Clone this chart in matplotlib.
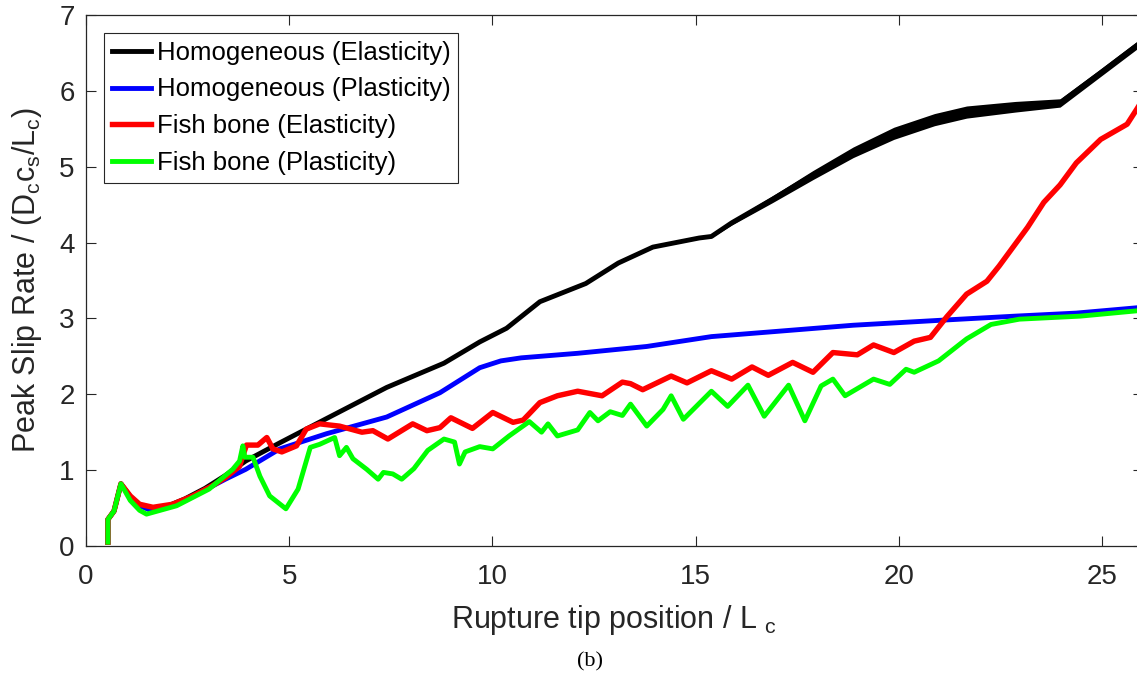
import numpy as np
import matplotlib
matplotlib.use("Agg")
import matplotlib.pyplot as plt

plt.rcParams['font.family'] = ['Liberation Sans', 'DejaVu Sans']
plt.rcParams['mathtext.fontset'] = 'custom'
plt.rcParams['mathtext.rm'] = 'Liberation Sans'

# Homogeneous (Elasticity)
black_x = [0.54, 0.54, 0.69, 0.86, 1.09, 1.34, 1.59, 1.93, 2.43, 2.93,
           3.43, 3.93, 4.77, 5.92, 7.40, 8.81, 9.69, 10.35, 11.17, 12.30,
           13.10, 13.95, 15.09, 15.39, 15.89, 16.89, 17.89, 18.88, 19.88, 20.88,
           21.67, 22.87, 23.97, 24.97, 25.86, 26.0]
black_y = [0.05, 0.35, 0.46, 0.82, 0.65, 0.53, 0.48, 0.51, 0.62, 0.76,
           0.93, 1.12, 1.36, 1.68, 2.09, 2.41, 2.69, 2.87, 3.22, 3.46,
           3.73, 3.94, 4.06, 4.08, 4.26, 4.57, 4.89, 5.19, 5.44, 5.62,
           5.72, 5.79, 5.84, 6.24, 6.60, 6.65]
# oscillation envelope (half width) of the black curve
black_spread = [0, 0, 0, 0, 0, 0, 0, 0, 0, 0,
                0, 0, 0, 0, 0, 0, 0, 0, 0, 0,
                0, 0, 0, 0.015, 0.03, 0.045, 0.06, 0.07, 0.08, 0.08,
                0.08, 0.07, 0.055, 0.05, 0.05, 0.05]

# Homogeneous (Plasticity)
blue_x = [0.54, 0.54, 0.69, 0.86, 1.09, 1.34, 1.59, 1.93, 2.43, 2.93,
          3.43, 3.93, 4.77, 5.92, 7.40, 8.71, 9.69, 10.21, 10.71, 12.10,
          13.80, 15.39, 17.49, 18.88, 21.18, 22.87, 24.37, 25.86, 26.0]
blue_y = [0.05, 0.35, 0.46, 0.82, 0.65, 0.53, 0.47, 0.50, 0.60, 0.74,
          0.88, 1.01, 1.28, 1.48, 1.70, 2.02, 2.35, 2.44, 2.48, 2.54,
          2.63, 2.76, 2.85, 2.91, 2.98, 3.03, 3.07, 3.14, 3.15]

# Fish bone (Elasticity)
red_x = [0.54, 0.54, 0.69, 0.86, 1.09, 1.32, 1.65, 2.13, 2.63, 3.13,
         3.43, 3.78, 3.88, 3.95, 4.23, 4.45, 4.60, 4.82, 5.18, 5.42,
         5.75, 6.24, 6.79, 7.06, 7.43, 8.04, 8.39, 8.71, 8.98, 9.51,
         10.01, 10.51, 10.76, 11.17, 11.60, 12.10, 12.70, 13.20, 13.40, 13.70,
         14.40, 14.79, 15.39, 15.89, 16.39, 16.79, 17.39, 17.89, 18.38, 18.98,
         19.38, 19.88, 20.38, 20.78, 21.18, 21.67, 22.17, 22.47, 23.17, 23.57,
         23.97, 24.37, 24.97, 25.62, 25.86, 26.0]
red_y = [0.05, 0.35, 0.46, 0.82, 0.66, 0.55, 0.51, 0.55, 0.66, 0.80,
         0.90, 1.05, 1.22, 1.33, 1.33, 1.43, 1.28, 1.24, 1.32, 1.54,
         1.61, 1.58, 1.50, 1.52, 1.41, 1.61, 1.52, 1.56, 1.69, 1.55,
         1.76, 1.63, 1.66, 1.89, 1.98, 2.04, 1.98, 2.16, 2.14, 2.06,
         2.24, 2.15, 2.31, 2.20, 2.36, 2.25, 2.42, 2.29, 2.55, 2.52,
         2.65, 2.55, 2.70, 2.75, 3.02, 3.32, 3.49, 3.69, 4.20, 4.53,
         4.76, 5.05, 5.36, 5.56, 5.76, 5.88]

# Fish bone (Plasticity)
green_x = [0.54, 0.54, 0.69, 0.86, 1.09, 1.32, 1.49, 2.23, 3.03, 3.61,
           3.78, 3.86, 3.91, 4.11, 4.28, 4.52, 4.92, 5.22, 5.52, 5.75,
           6.12, 6.24, 6.41, 6.57, 6.91, 7.19, 7.32, 7.55, 7.77, 8.07,
           8.41, 8.81, 9.07, 9.19, 9.33, 9.69, 10.01, 10.41, 10.91, 11.21,
           11.37, 11.60, 12.10, 12.40, 12.60, 12.90, 13.20, 13.40, 13.80, 14.20,
           14.40, 14.70, 15.39, 15.79, 16.29, 16.69, 17.29, 17.69, 18.09, 18.38,
           18.68, 19.38, 19.78, 20.18, 20.38, 20.98, 21.67, 22.27, 22.97, 24.47,
           25.86, 26.0]
green_y = [0.05, 0.35, 0.46, 0.82, 0.60, 0.47, 0.42, 0.53, 0.75, 1.01,
           1.12, 1.32, 1.17, 1.17, 0.92, 0.66, 0.49, 0.75, 1.30, 1.34,
           1.43, 1.19, 1.30, 1.15, 1.01, 0.88, 0.97, 0.95, 0.88, 1.02,
           1.26, 1.41, 1.37, 1.08, 1.24, 1.31, 1.28, 1.45, 1.64, 1.50,
           1.61, 1.45, 1.53, 1.76, 1.65, 1.77, 1.72, 1.87, 1.58, 1.80,
           1.98, 1.67, 2.04, 1.84, 2.12, 1.71, 2.12, 1.65, 2.11, 2.20,
           1.98, 2.20, 2.13, 2.33, 2.29, 2.44, 2.73, 2.92, 2.99, 3.03,
           3.10, 3.11]

labels = ['Homogeneous (Elasticity)', 'Homogeneous (Plasticity)',
          'Fish bone (Elasticity)', 'Fish bone (Plasticity)']

fig = plt.figure(figsize=(11.37, 6.86), dpi=100)
ax = fig.add_axes([0.0756, 0.2041, 0.9293, 0.7741])

lw = 3.5
by = np.array(black_y)
bs = np.array(black_spread)
ax.fill_between(black_x, by - bs, by + bs, color='k', lw=0)
ax.plot(black_x, black_y, color='k', lw=lw, label=labels[0])
ax.plot(blue_x, blue_y, color=(0, 0, 1), lw=lw, label=labels[1])
ax.plot(red_x, red_y, color=(1, 0, 0), lw=lw + 0.4, label=labels[2])
ax.plot(green_x, green_y, color=(0, 1, 0), lw=lw, label=labels[3])

ax.set_xlim(0, 26)
ax.set_ylim(0, 7)
ax.set_xticks([0, 5, 10, 15, 20, 25])
ax.set_yticks(range(8))
ax.tick_params(direction='in', length=7, width=0.8, color='#262626',
               top=True, right=True, labelsize=20, labelcolor='#262626')
ax.tick_params(axis='x', pad=13)
ax.tick_params(axis='y', pad=8)
for sp in ax.spines.values():
    sp.set_color('#262626')
    sp.set_linewidth(0.9)

ax.set_xlabel(r'Rupture tip position / L $\mathregular{_c}$', fontsize=22,
              color='#262626', labelpad=9)
ax.set_ylabel(r'Peak Slip Rate / (D$\mathregular{_c}$c$\mathregular{_s}$/L$\mathregular{_c}$)',
              fontsize=22, color='#262626', labelpad=11)

leg = ax.legend(loc='upper left', fontsize=18.5, frameon=True, fancybox=False,
                framealpha=1, edgecolor='#262626', handlelength=1.55,
                handletextpad=0.2, borderpad=0.3, labelspacing=0.5,
                borderaxespad=0.7)
leg.get_frame().set_linewidth(0.8)

fig.text(0.519, 0.035, '(b)', fontsize=16, family='Liberation Serif',
         ha='center', va='center')

fig.savefig('out.png', dpi=100)
